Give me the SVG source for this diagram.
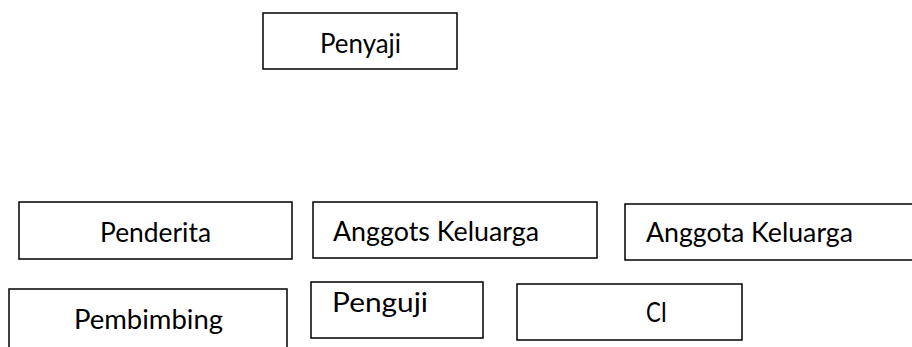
<svg xmlns="http://www.w3.org/2000/svg" width="912" height="347" viewBox="0 0 912 347">
<style>
.box{fill:#fff;stroke:#000;stroke-width:1.5}
.t{font-family:Lato,"Open Sans","Liberation Sans",sans-serif;font-size:26px;fill:#000}
</style>
<rect width="912" height="347" fill="#fff"/>
<g id="connectors"></g>
<g id="penyaji"><rect class="box" x="263" y="13" width="194" height="56"/><text class="t" x="320" y="53" textLength="81" lengthAdjust="spacingAndGlyphs">Penyaji</text></g>
<g id="penderita"><rect class="box" x="19" y="202" width="273" height="57"/><text class="t" x="100" y="242" textLength="111" lengthAdjust="spacingAndGlyphs">Penderita</text></g>
<g id="anggots-keluarga"><rect class="box" x="313" y="202" width="284" height="56"/><text class="t" x="333" y="241" textLength="206" lengthAdjust="spacingAndGlyphs">Anggots Keluarga</text></g>
<g id="anggota-keluarga"><rect class="box" x="625" y="204" width="300" height="56"/><text class="t" x="646" y="242" textLength="207" lengthAdjust="spacingAndGlyphs">Anggota Keluarga</text></g>
<g id="pembimbing"><rect class="box" x="9" y="289" width="278" height="70"/><text class="t" x="74" y="329" textLength="149" lengthAdjust="spacingAndGlyphs">Pembimbing</text></g>
<g id="penguji"><rect class="box" x="311" y="282" width="172" height="56"/><text class="t" x="332" y="312" textLength="96" lengthAdjust="spacingAndGlyphs">Penguji</text></g>
<g id="ci"><rect class="box" x="517" y="284" width="225" height="56"/><text class="t" x="646" y="322" textLength="21" lengthAdjust="spacingAndGlyphs">CI</text></g>
</svg>
